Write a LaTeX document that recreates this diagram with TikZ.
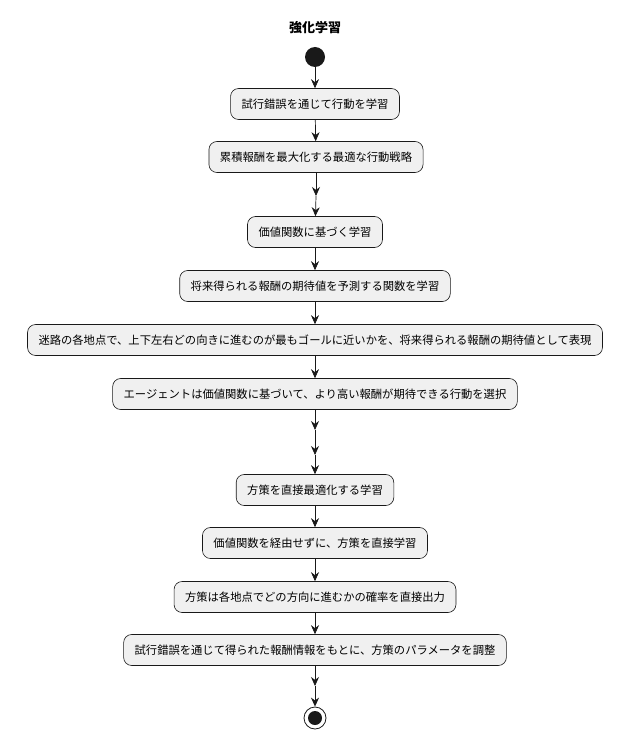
\documentclass[tikz,border=0pt]{standalone}
\usepackage{fontspec}
\setmainfont{Noto Sans CJK JP}
\usetikzlibrary{arrows.meta}
\begin{document}
\begin{tikzpicture}[x=1pt,y=-1pt,
  act/.style={draw=black!90,fill=black!6,rounded corners=8pt,minimum height=31pt,inner xsep=11pt,font=\fontsize{11.3}{13}\selectfont,line width=0.6pt},
  arr/.style={-{Stealth[length=9pt,width=8pt]},line width=0.7pt,draw=black!90}]
\useasboundingbox (0,0) rectangle (629,738);
\node[font=\bfseries\fontsize{13}{15}\selectfont] (title) at (315,28) {強化学習};
\node[circle,fill=black!90,minimum size=20pt,inner sep=0] (start) at (315,57) {};
\node[act] (n1) at (315,104) {試行錯誤を通じて行動を学習};
\node[act] (n2) at (316,157) {累積報酬を最大化する最適な行動戦略};
\coordinate (c1) at (316,196);
\node[act] (n3) at (315,232) {価値関数に基づく学習};
\node[act] (n4) at (315,286) {将来得られる報酬の期待値を予測する関数を学習};
\node[act] (n5) at (315,340) {迷路の各地点で、上下左右どの向きに進むのが最もゴールに近いかを、将来得られる報酬の期待値として表現};
\node[act] (n6) at (315,394) {エージェントは価値関数に基づいて、より高い報酬が期待できる行動を選択};
\coordinate (c2) at (315,430);
\coordinate (c3) at (315,455);
\node[act] (n7) at (315,490) {方策を直接最適化する学習};
\node[act] (n8) at (315,543) {価値関数を経由せずに、方策を直接学習};
\node[act] (n9) at (315,597) {方策は各地点でどの方向に進むかの確率を直接出力};
\node[act] (n10) at (315,650) {試行錯誤を通じて得られた報酬情報をもとに、方策のパラメータを調整};
\coordinate (c4) at (315,686);
\node[circle,draw=black!90,line width=0.8pt,minimum size=22pt,inner sep=0] (end) at (315,718) {};
\fill[black!90] (end) circle (7pt);
\draw[arr] (start) -- (n1);
\draw[arr] (n1) -- (n2);
\draw[arr] (n2) -- (c1);
\draw[arr] (c1) -- (n3);
\draw[arr] (n3) -- (n4);
\draw[arr] (n4) -- (n5);
\draw[arr] (n5) -- (n6);
\draw[arr] (n6) -- (c2);
\draw[arr] (c2) -- (c3);
\draw[arr] (c3) -- (n7);
\draw[arr] (n7) -- (n8);
\draw[arr] (n8) -- (n9);
\draw[arr] (n9) -- (n10);
\draw[arr] (n10) -- (c4);
\draw[arr] (c4) -- (end);
\end{tikzpicture}
\end{document}
